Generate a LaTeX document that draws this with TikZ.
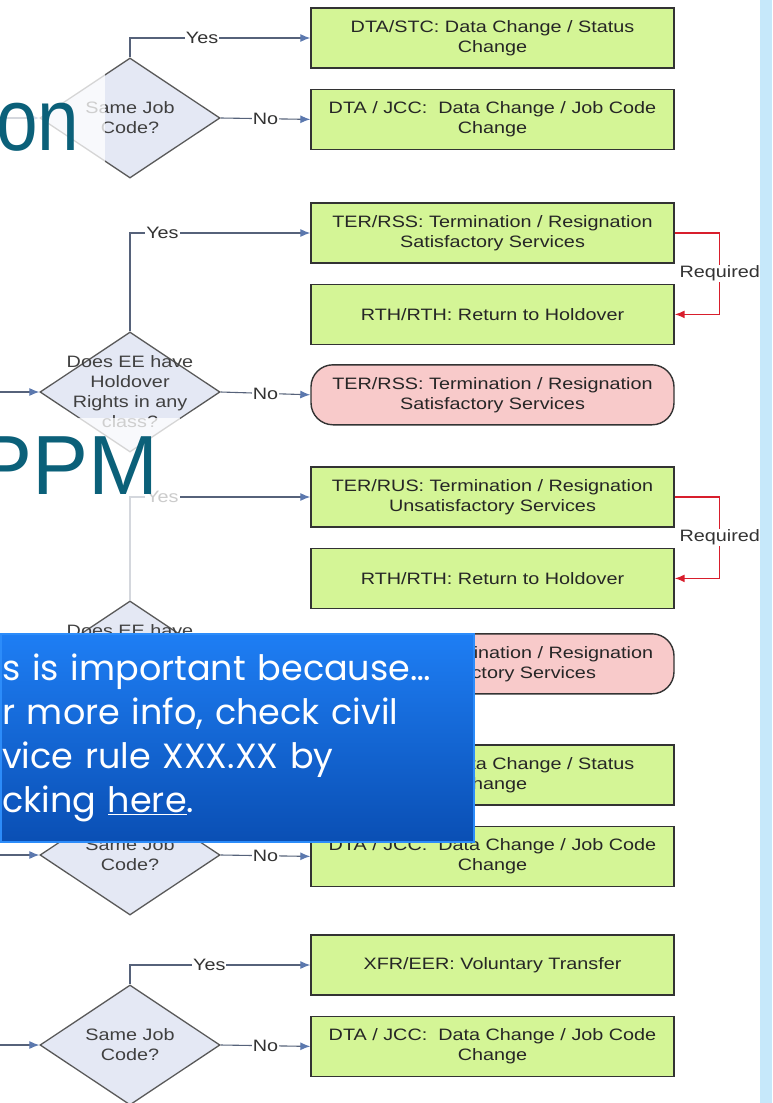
\documentclass[tikz,border=0pt]{standalone}
\usepackage{fontspec}
\setmainfont{Liberation Sans}
\newfontfamily\chartfont{Liberation Sans}[FakeStretch=1.2]
\newfontfamily\titlefont{Liberation Sans}
\newfontfamily\narrowtitlefont{Liberation Sans}[FakeStretch=0.85]
\newfontfamily\notefont{Poppins}
\usetikzlibrary{positioning, arrows.meta, shapes.geometric}
\definecolor{boxgreen}{HTML}{D4F596}
\definecolor{endpink}{HTML}{F8CACA}
\definecolor{askfill}{HTML}{E4E8F4}
\definecolor{flowgray}{HTML}{56627A}
\definecolor{tipblue}{HTML}{5B78AE}
\definecolor{reqred}{HTML}{D81E2C}
\definecolor{titleteal}{HTML}{0B6079}
\definecolor{notetop}{HTML}{1E7EF4}
\definecolor{notebottom}{HTML}{0A4FB4}
\definecolor{noteedge}{HTML}{2C8CFA}
\definecolor{stripblue}{HTML}{C6E8FA}

\begin{document}
\begin{tikzpicture}[
    x=1pt, y=-1pt,
    font=\chartfont\fontsize{16.5}{20}\selectfont,
    action/.style={rectangle, draw=black!80, line width=1.4pt, fill=boxgreen, text=black!85, minimum width=363pt, minimum height=60pt, align=center, inner sep=2pt},
    finish/.style={action, fill=endpink, rounded corners=22pt},
    ask/.style={diamond, draw=black!65, line width=1.3pt, fill=askfill, minimum width=180pt, minimum height=120pt, inner sep=0pt},
    asktext/.style={align=center, text=black!75},
    flow/.style={draw=flowgray, line width=1.1pt, -{Latex[length=10pt, width=8pt, color=tipblue]}},
    req/.style={draw=reqred, line width=1.5pt, -{Latex[length=10pt, width=8pt]}},
    lbl/.style={fill=white, inner sep=1pt, text=black!80},
    title/.style={font=\titlefont\fontsize{84}{84}\selectfont, text=titleteal, inner sep=0pt},
    note/.style={rectangle, draw=noteedge, line width=1.5pt, top color=notetop, bottom color=notebottom, minimum width=473pt, minimum height=208pt, text width=470pt, align=left, inner xsep=1pt, text=white, font=\notefont\fontsize{35}{44}\selectfont}
]
\useasboundingbox (0,0) rectangle (772,1103);
\clip (0,0) rectangle (772,1103);

% Same job code
\node[action] (a1) at (492.5,38) {DTA/STC: Data Change / Status\\Change};
\node[action, below=20pt of a1] (a2) {DTA / JCC:\ \ Data Change / Job Code\\Change};
\node[ask, label={[asktext]center:Same Job\\Code?}] (d1) at (130,118) {};

% Holdover rights, satisfactory
\node[action] (b1) at (492.5,233) {TER/RSS: Termination / Resignation\\Satisfactory Services};
\node[action, below=20pt of b1] (b2) {RTH/RTH: Return to Holdover};
\node[finish, below=19pt of b2] (b3) {TER/RSS: Termination / Resignation\\Satisfactory Services};
\node[ask, label={[asktext]center:Does EE have\\Holdover\\Rights in any\\class?}] (d2) at (130,392) {};

% Holdover rights, unsatisfactory
\node[action] (c1) at (492.5,497) {TER/RUS: Termination / Resignation\\Unsatisfactory Services};
\node[action, below=20pt of c1] (c2) {RTH/RTH: Return to Holdover};
\node[finish, below=24pt of c2] (c3) {TER/RUS: Termination / Resignation\\Unsatisfactory Services};
\node[ask, label={[asktext]center:Does EE have\\Holdover\\Rights in any\\class?}] (d3) at (130,661) {};

% Same job code again
\node[action] (e1) at (492.5,775) {DTA/STC: Data Change / Status\\Change};
\node[action, below=20pt of e1] (e2) {DTA / JCC:\ \ Data Change / Job Code\\Change};
\node[ask, label={[asktext]center:Same Job\\Code?}] (d4) at (130,855) {};

% Transfer
\node[action] (f1) at (492.5,965) {XFR/EER: Voluntary Transfer};
\node[action, below=20pt of f1] (f2) {DTA / JCC:\ \ Data Change / Job Code\\Change};
\node[ask, label={[asktext]center:Same Job\\Code?}] (d5) at (130,1045) {};

% Incoming lines
\foreach \i in {1,...,5}
    \coordinate (in\i) at (0,0 |- d\i.west);

% Yes / No branches
\foreach \i/\yes/\no/\p in {1/a1/a2/0.7, 2/b1/b3/0.59, 3/c1/c3/0.59, 4/e1/e2/0.7, 5/f1/f2/0.72} {
    \draw[flow] (in\i) -- (d\i.west);
    \draw[flow] (d\i.north) |- node[lbl, pos=\p] {Yes} (\yes.west);
    \draw[flow] (d\i.east) -- node[lbl] {No} (\no.west);
}

% Required
\draw[req] (b1.east) -- ++(45,0) |- node[lbl, pos=0.25] {Required} (b2.east);
\draw[req] (c1.east) -- ++(45,0) |- node[lbl, pos=0.25] {Required} (c2.east);

% Title boxes (faded)
\fill[white, fill opacity=0.75] (0,55) rectangle (105,200);
\fill[white, fill opacity=0.75] (0,418) rectangle (180,600);
\node[title, font=\narrowtitlefont\fontsize{88}{88}\selectfont, anchor=base west] (ontitle) at (-4,150) {on};
\node[title, anchor=base west] (ppmtitle) at (-24,494) {PPM};

% Note
\node[note, anchor=north west] (note) at (0,633) {s is important because…\\r more info, check civil\\vice rule XXX.XX by\\cking \underline{here}.};

% Side strip
\fill[stripblue] (760,0) rectangle (772,1103);

\end{tikzpicture}
\end{document}
